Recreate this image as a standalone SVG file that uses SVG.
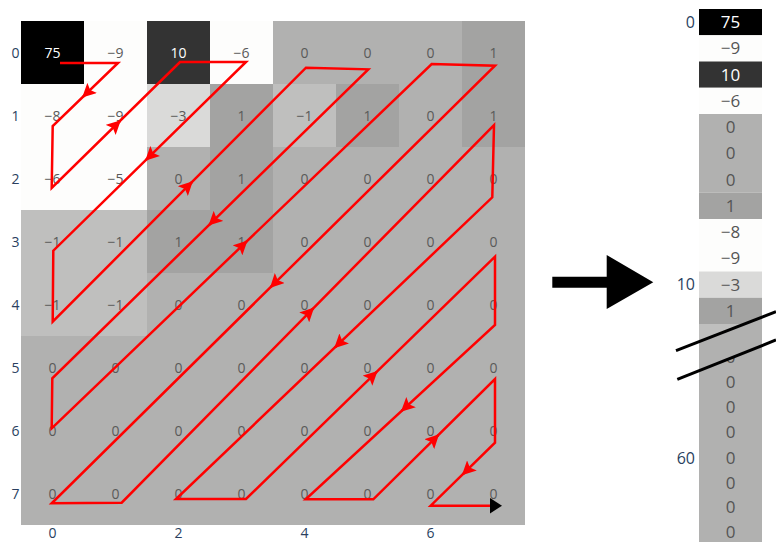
<svg xmlns="http://www.w3.org/2000/svg" width="776" height="542" viewBox="0 0 776 542">
<style>
.w{fill:#fdfdfc}.k{fill:#000}.d{fill:#333}.l3{fill:#dadad9}.lm{fill:#bfbfbe}.z{fill:#b1b1b0}.p{fill:#a3a3a2}
.t{font-family:"Open Sans","Liberation Sans",sans-serif;font-size:14px;fill:#5a5a5a;text-anchor:middle}
.rt{font-family:"Open Sans","Liberation Sans",sans-serif;font-size:17px;fill:#555;text-anchor:middle}
.tw{fill:#fff}
.ax{font-family:"Open Sans","Liberation Sans",sans-serif;font-size:14px;fill:#2a3f5f}
.axr{font-family:"Open Sans","Liberation Sans",sans-serif;font-size:16px;fill:#2a3f5f;text-anchor:end}
.red{fill:none;stroke:#f00;stroke-width:2.5;stroke-linejoin:miter}
.ar{stroke:#f00;stroke-width:2.5;marker-end:url(#ah)}
</style>
<defs>
<marker id="ah" viewBox="0 0 12 12" refX="11" refY="6" markerWidth="14" markerHeight="14" markerUnits="userSpaceOnUse" orient="auto"><path d="M0,0 L12,6 L0,12 L2.5,6 z" fill="#f00"/></marker>
<clipPath id="topclip"><polygon points="690,0 776,0 776,311.7 676,350.7"/></clipPath>
<clipPath id="botclip"><polygon points="676,379.3 776,340 776,542 676,542"/></clipPath>
</defs>
<rect width="776" height="542" fill="#fff"/>
<g id="grid">
<rect class="z" x="21" y="21" width="504" height="504"/>
<rect class="k" x="21" y="21" width="63" height="63"/>
<rect class="w" x="84" y="21" width="63" height="63"/>
<rect class="d" x="147" y="21" width="63" height="63"/>
<rect class="w" x="210" y="21" width="63" height="63"/>
<rect class="p" x="462" y="21" width="63" height="63"/>
<rect class="w" x="21" y="84" width="126" height="126"/>
<rect class="l3" x="147" y="84" width="63" height="63"/>
<rect class="p" x="210" y="84" width="63" height="126"/>
<rect class="lm" x="273" y="84" width="63" height="63"/>
<rect class="p" x="336" y="84" width="63" height="63"/>
<rect class="p" x="462" y="84" width="63" height="63"/>
<rect class="lm" x="21" y="210" width="126" height="126"/>
<rect class="p" x="147" y="210" width="126" height="63"/>
</g>
<g id="grid-values" class="t">
<text class="t tw" x="52.5" y="58">75</text><text x="115.5" y="58">−9</text><text class="t tw" x="178.5" y="58">10</text><text x="241.5" y="58">−6</text><text x="304.5" y="58">0</text><text x="367.5" y="58">0</text><text x="430.5" y="58">0</text><text x="493.5" y="58">1</text>
<text x="52.5" y="121">−8</text><text x="115.5" y="121">−9</text><text x="178.5" y="121">−3</text><text x="241.5" y="121">1</text><text x="304.5" y="121">−1</text><text x="367.5" y="121">1</text><text x="430.5" y="121">0</text><text x="493.5" y="121">1</text>
<text x="52.5" y="184">−6</text><text x="115.5" y="184">−5</text><text x="178.5" y="184">0</text><text x="241.5" y="184">1</text><text x="304.5" y="184">0</text><text x="367.5" y="184">0</text><text x="430.5" y="184">0</text><text x="493.5" y="184">0</text>
<text x="52.5" y="247">−1</text><text x="115.5" y="247">−1</text><text x="178.5" y="247">1</text><text x="241.5" y="247">1</text><text x="304.5" y="247">0</text><text x="367.5" y="247">0</text><text x="430.5" y="247">0</text><text x="493.5" y="247">0</text>
<text x="52.5" y="310">−1</text><text x="115.5" y="310">−1</text><text x="178.5" y="310">0</text><text x="241.5" y="310">0</text><text x="304.5" y="310">0</text><text x="367.5" y="310">0</text><text x="430.5" y="310">0</text><text x="493.5" y="310">0</text>
<text x="52.5" y="373">0</text><text x="115.5" y="373">0</text><text x="178.5" y="373">0</text><text x="241.5" y="373">0</text><text x="304.5" y="373">0</text><text x="367.5" y="373">0</text><text x="430.5" y="373">0</text><text x="493.5" y="373">0</text>
<text x="52.5" y="436">0</text><text x="115.5" y="436">0</text><text x="178.5" y="436">0</text><text x="241.5" y="436">0</text><text x="304.5" y="436">0</text><text x="367.5" y="436">0</text><text x="430.5" y="436">0</text><text x="493.5" y="436">0</text>
<text x="52.5" y="499">0</text><text x="115.5" y="499">0</text><text x="178.5" y="499">0</text><text x="241.5" y="499">0</text><text x="304.5" y="499">0</text><text x="367.5" y="499">0</text><text x="430.5" y="499">0</text><text x="493.5" y="499">0</text>
</g>
<g id="grid-axes" class="ax">
<g text-anchor="end">
<text x="19.5" y="57.5">0</text><text x="19.5" y="120.5">1</text><text x="19.5" y="183.5">2</text><text x="19.5" y="246.5">3</text><text x="19.5" y="309.5">4</text><text x="19.5" y="372.5">5</text><text x="19.5" y="435.5">6</text><text x="19.5" y="498.5">7</text>
</g>
<g text-anchor="middle">
<text x="52.5" y="538">0</text><text x="178.5" y="538">2</text><text x="304.5" y="538">4</text><text x="430.5" y="538">6</text>
</g>
</g>
<g id="connectors">
<path class="red" d="M60,63 L118,63 L52.7,126 L51.7,188 L180,62 L246,62 L53.3,250.7 L52.7,321.7 L306,67.7 L368.3,69.3 L52.3,378.3 L51.7,428.3 L431.7,64 L495,65.7 L51.7,503.3 L121.7,502.7 L494,125 L492.3,197.3 L176,499 L246,499 L495,256.7 L495,325 L305.7,499.3 L373.3,499.3 L495,379 L495,442.7 L430.7,505.7 L490,505.7"/>
<line class="ar" x1="85.9" y1="94" x2="83" y2="96.8"/>
<line class="ar" x1="117.1" y1="123.8" x2="120" y2="121"/>
<line class="ar" x1="148.9" y1="157.1" x2="146" y2="159.9"/>
<line class="ar" x1="189.2" y1="184.8" x2="192" y2="182"/>
<line class="ar" x1="212.2" y1="222" x2="209.3" y2="224.8"/>
<line class="ar" x1="243.8" y1="244.2" x2="246.7" y2="241.4"/>
<line class="ar" x1="273.5" y1="284.3" x2="270.7" y2="287.1"/>
<line class="ar" x1="310.5" y1="311.1" x2="313.3" y2="308.3"/>
<line class="ar" x1="337.9" y1="344.6" x2="335" y2="347.4"/>
<line class="ar" x1="373.8" y1="374.6" x2="376.7" y2="371.8"/>
<line class="ar" x1="404.6" y1="408.2" x2="401.7" y2="410.9"/>
<line class="ar" x1="435.5" y1="437.9" x2="438.3" y2="435.1"/>
<line class="ar" x1="465.6" y1="471.6" x2="462.7" y2="474.4"/>
<polygon points="490,498 502,505.7 490,513.4" fill="#000"/>
</g>
<g id="big-arrow">
<polygon points="552.3,276.7 606.7,276.7 606.7,255 653.3,282.3 606.7,309 606.7,287.7 552.3,287.7" fill="#000"/>
</g>
<g id="vector-top" clip-path="url(#topclip)">
<rect class="k" x="699" y="9" width="63" height="26.25"/>
<rect class="w" x="699" y="35.25" width="63" height="26.25"/>
<rect class="d" x="699" y="61.5" width="63" height="26.25"/>
<rect class="w" x="699" y="87.75" width="63" height="26.25"/>
<rect class="z" x="699" y="114" width="63" height="78.75"/>
<rect class="p" x="699" y="192.75" width="63" height="26.25"/>
<rect class="w" x="699" y="219" width="63" height="52.5"/>
<rect class="l3" x="699" y="271.5" width="63" height="26.25"/>
<rect class="p" x="699" y="297.75" width="63" height="26.25"/>
<rect class="lm" x="699" y="324" width="63" height="26.25"/>
<text class="rt tw" x="730.5" y="28.2">75</text>
<text class="rt" x="730.5" y="54.4">−9</text>
<text class="rt tw" x="730.5" y="80.7">10</text>
<text class="rt" x="730.5" y="106.9">−6</text>
<text class="rt" x="730.5" y="133.2">0</text>
<text class="rt" x="730.5" y="159.4">0</text>
<text class="rt" x="730.5" y="185.7">0</text>
<text class="rt" x="730.5" y="211.9">1</text>
<text class="rt" x="730.5" y="238.2">−8</text>
<text class="rt" x="730.5" y="264.4">−9</text>
<text class="rt" x="730.5" y="290.7">−3</text>
<text class="rt" x="730.5" y="316.9">1</text>
</g>
<g id="vector-bottom">
<polygon class="z" points="699,341.7 762,317.2 762,542 699,542"/>
<g clip-path="url(#botclip)">
<text class="rt" x="730.5" y="363.1">0</text>
<text class="rt" x="730.5" y="388.1">0</text>
<text class="rt" x="730.5" y="413.1">0</text>
<text class="rt" x="730.5" y="438.1">0</text>
<text class="rt" x="730.5" y="463.6">0</text>
<text class="rt" x="730.5" y="488.6">0</text>
<text class="rt" x="730.5" y="513.3">0</text>
<text class="rt" x="730.5" y="537.5">0</text>
</g>
</g>
<g id="break-lines" stroke="#000" stroke-width="3">
<line x1="676" y1="350.7" x2="776" y2="311.7"/>
<line x1="677.3" y1="379.3" x2="776" y2="340"/>
</g>
<g id="vector-axis" class="axr">
<text x="695" y="27.8">0</text>
<text x="695" y="290.3">10</text>
<text x="695" y="464.1">60</text>
</g>
</svg>
